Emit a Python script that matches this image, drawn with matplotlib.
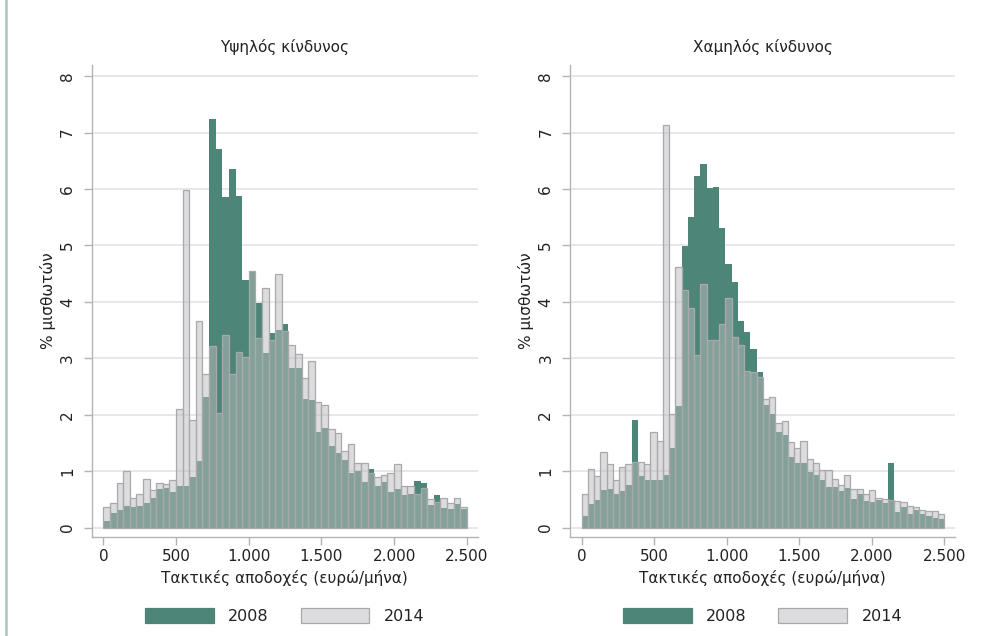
import numpy as np
import matplotlib
matplotlib.use('Agg')
import matplotlib.pyplot as plt
from matplotlib.patches import Patch
from matplotlib.lines import Line2D

# ---------------- data ----------------
x_range = (0, 2500)
titles = ['Υψηλός κίνδυνος', 'Χαμηλός κίνδυνος']
years = ['2008', '2014']
xlabel = 'Τακτικές αποδοχές (ευρώ/μήνα)'
ylabel = '% μισθωτών'
xticks = [0, 500, 1000, 1500, 2000, 2500]
xticklabels = ['0', '500', '1.000', '1.500', '2.000', '2.500']
yticks = [0, 1, 2, 3, 4, 5, 6, 7, 8]

high_2008 = [0.12, 0.26, 0.32, 0.38, 0.37, 0.39, 0.44, 0.53, 0.69, 0.71,
             0.63, 0.73, 0.73, 0.90, 1.18, 2.31, 7.24, 6.71, 5.86, 6.36,
             5.87, 4.39, 4.54, 3.98, 3.10, 3.45, 3.50, 3.61, 2.82, 2.82,
             2.28, 2.27, 1.69, 1.76, 1.44, 1.32, 1.20, 0.97, 1.00, 0.81,
             1.04, 0.74, 0.81, 0.63, 0.68, 0.58, 0.60, 0.82, 0.80, 0.40,
             0.58, 0.34, 0.33, 0.42, 0.33]
high_2014 = [0.36, 0.43, 0.79, 1.00, 0.53, 0.59, 0.86, 0.67, 0.79, 0.78,
             0.85, 2.10, 5.99, 1.91, 3.67, 2.73, 3.22, 2.04, 3.42, 2.72,
             3.11, 3.02, 4.54, 3.36, 4.24, 3.32, 4.49, 3.48, 3.23, 3.08,
             2.66, 2.96, 2.22, 2.17, 1.74, 1.68, 1.35, 1.48, 1.15, 1.15,
             0.96, 0.90, 0.94, 0.97, 1.12, 0.74, 0.73, 0.60, 0.71, 0.50,
             0.46, 0.52, 0.43, 0.52, 0.37]
low_2008 = [0.21, 0.42, 0.49, 0.66, 0.68, 0.59, 0.65, 0.75, 1.91, 0.91,
            0.84, 0.85, 0.84, 0.94, 1.41, 2.16, 4.99, 5.50, 6.23, 6.44,
            6.02, 6.04, 5.31, 4.67, 4.36, 3.66, 3.46, 3.17, 2.76, 2.17,
            2.02, 1.70, 1.64, 1.25, 1.14, 1.14, 0.99, 0.93, 0.84, 0.72,
            0.72, 0.65, 0.70, 0.50, 0.60, 0.47, 0.46, 0.49, 0.44, 1.14,
            0.28, 0.36, 0.24, 0.31, 0.25, 0.21, 0.18, 0.16]
low_2014 = [0.59, 1.04, 0.92, 1.34, 1.12, 0.85, 1.07, 1.13, 1.16, 1.17,
            1.12, 1.70, 1.54, 7.13, 2.01, 4.62, 4.21, 3.89, 3.06, 4.32,
            3.32, 3.32, 3.61, 4.07, 3.37, 3.23, 2.78, 2.75, 2.67, 2.28,
            2.32, 1.85, 1.89, 1.51, 1.41, 1.54, 1.22, 1.15, 1.03, 1.03,
            0.87, 0.76, 0.94, 0.68, 0.69, 0.59, 0.67, 0.53, 0.50, 0.49,
            0.47, 0.46, 0.39, 0.36, 0.32, 0.30, 0.30, 0.25]

panels = [(high_2008, high_2014), (low_2008, low_2014)]

# ---------------- style ----------------
plt.rcParams['font.family'] = ['DejaVu Sans']
GREEN = '#4e8579'
GRAY_FC = (186 / 255, 187 / 255, 190 / 255, 0.5)
GRAY_EC = '#a9a9a9'
TXT = '#222222'
AX = '#b4b4b4'
GRID = '#e0e0e0'
FS = 11

W, H = 984, 636
fig = plt.figure(figsize=(W / 100, H / 100), dpi=100)
fig.add_artist(Line2D([6 / W, 6 / W], [0, 1], color='#a9c6c0', lw=1.8))

ax_px = [(91.7, 477.7), (570.0, 955.0)]
top_px, bot_px = 64.8, 536.7

for k, ((d08, d14), title, (xl, xr)) in enumerate(zip(panels, titles, ax_px)):
    ax = fig.add_axes([xl / W, 1 - bot_px / H, (xr - xl) / W, (bot_px - top_px) / H])
    for data, kw in ((d08, dict(color=GREEN, linewidth=0, zorder=2)),
                     (d14, dict(facecolor=GRAY_FC, edgecolor=GRAY_EC, linewidth=0.9,
                                zorder=3))):
        edges = np.linspace(x_range[0], x_range[1], len(data) + 1)
        ax.bar(edges[:-1], data, width=np.diff(edges), align='edge', **kw)

    ax.set_xlim(-80, 2575)
    ax.set_ylim(-0.16, 8.2)
    ax.set_xticks(xticks)
    ax.set_xticklabels(xticklabels)
    ax.set_yticks(yticks)
    ax.set_yticklabels([str(v) for v in yticks], rotation=90, va='center')
    ax.yaxis.grid(True, color=GRID, linewidth=1.1, zorder=0)
    ax.set_axisbelow(True)
    for s in ('top', 'right'):
        ax.spines[s].set_visible(False)
    for s in ('left', 'bottom'):
        ax.spines[s].set_color(AX)
        ax.spines[s].set_linewidth(1.0)
    ax.tick_params(axis='both', colors=AX, labelcolor=TXT, labelsize=FS,
                   length=6, width=1.0)
    ax.tick_params(axis='x', pad=3)
    ax.tick_params(axis='y', pad=6)
    ax.set_title(title, fontsize=FS, color=TXT, pad=9)
    ax.set_xlabel(xlabel, fontsize=FS, color=TXT, labelpad=4)
    ax.set_ylabel(ylabel, fontsize=FS, color=TXT, labelpad=3)

    handles = [Patch(facecolor=GREEN, edgecolor=GREEN, linewidth=0.9),
               Patch(facecolor=GRAY_FC, edgecolor=GRAY_EC, linewidth=0.9)]
    ax.legend(handles, years, loc='center', bbox_to_anchor=(0.5, -0.168),
              ncol=2, frameon=False, fontsize=11.5, handlelength=4.3,
              handleheight=1.1, handletextpad=0.9, columnspacing=2.0,
              labelcolor=TXT)

fig.savefig('out.png', dpi=100)
